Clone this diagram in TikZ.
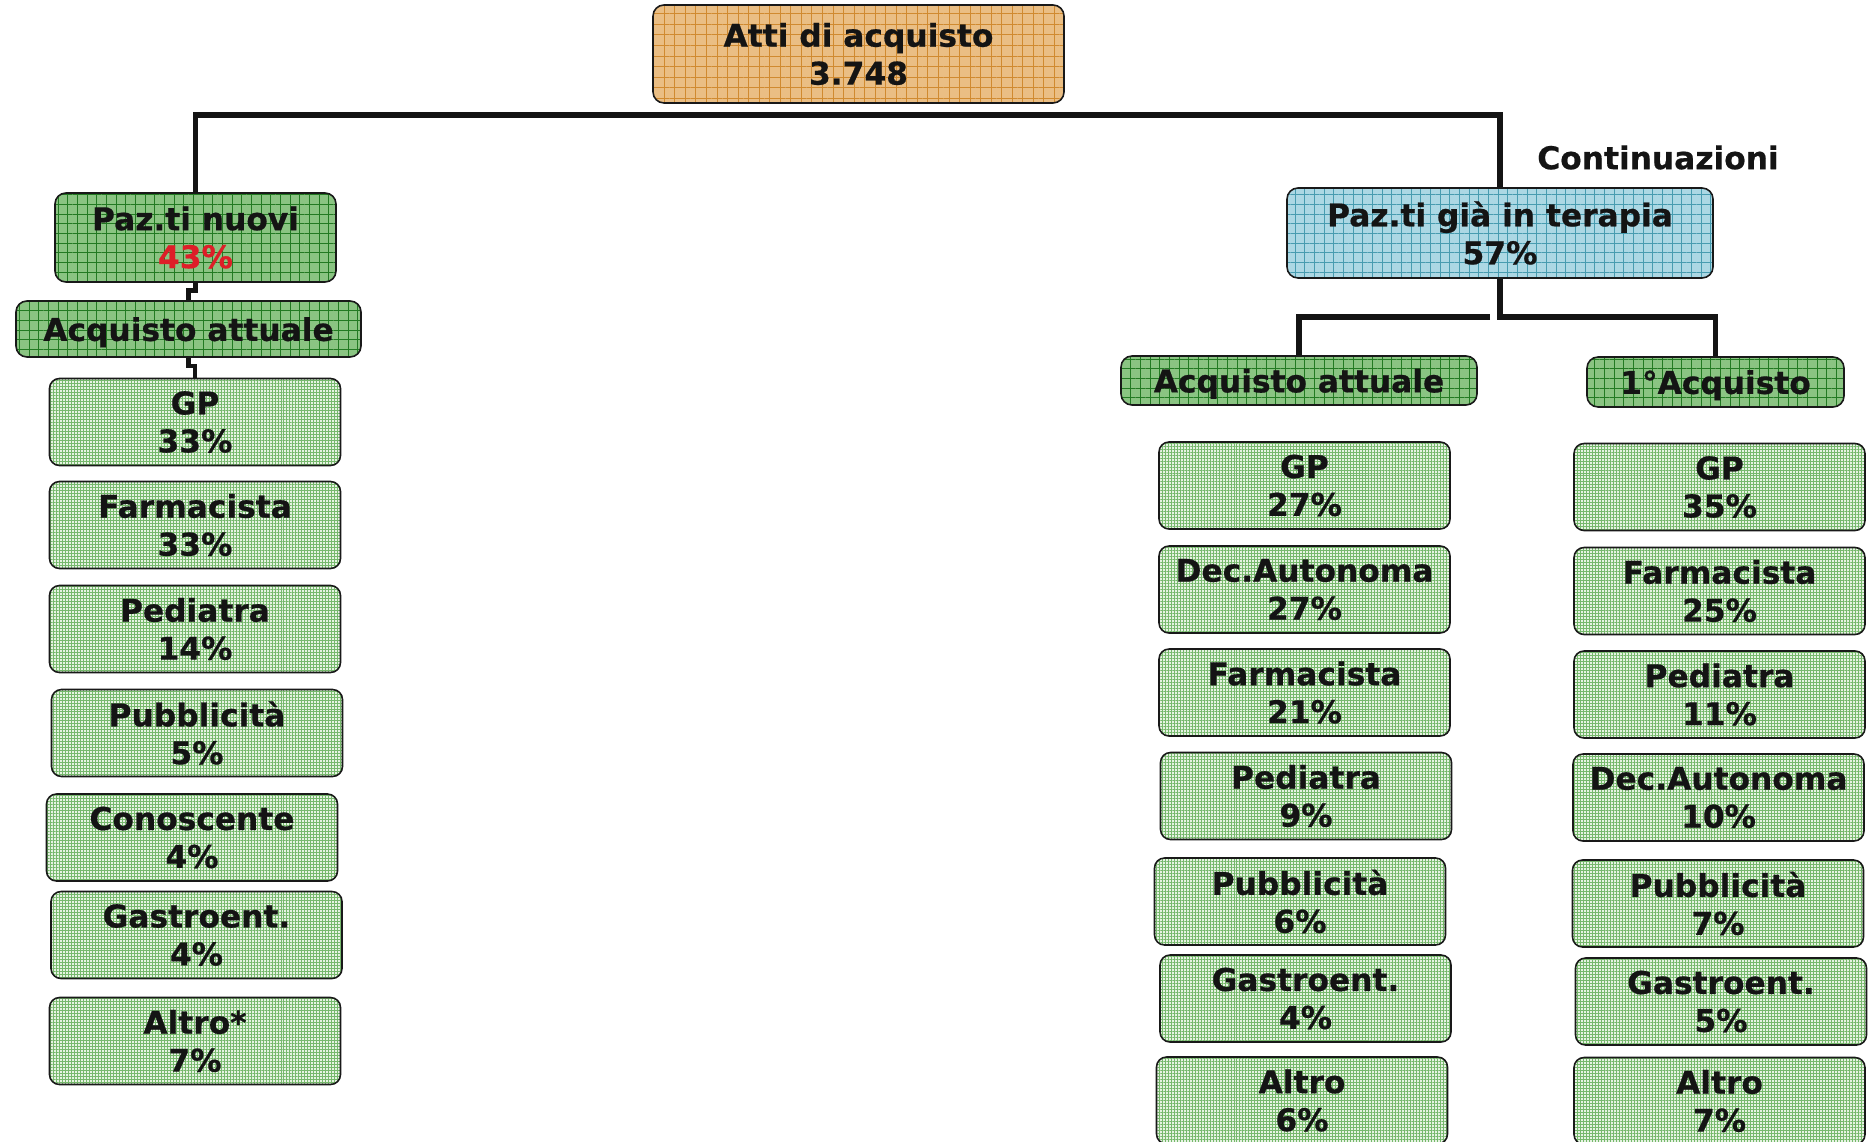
\documentclass[tikz,border=0pt]{standalone}
\usepackage{fontspec}
\setmainfont{DejaVu Sans}[BoldFeatures={FakeBold=0.6}]
\usetikzlibrary{positioning,patterns.meta}
\definecolor{boxorange}{RGB}{234,190,132}
\definecolor{gridorange}{RGB}{208,138,48}
\definecolor{boxgreen}{RGB}{138,196,130}
\definecolor{gridgreen}{RGB}{34,122,34}
\definecolor{boxleaf}{RGB}{230,243,226}
\definecolor{gridleaf}{RGB}{118,184,108}
\definecolor{boxblue}{RGB}{172,216,228}
\definecolor{gridblue}{RGB}{72,156,176}
\definecolor{txtred}{RGB}{222,30,40}

\begin{document}
\begin{tikzpicture}[
  box/.style={draw=black!90, line width=0.9pt, rectangle, rounded corners=0.22cm, inner sep=0pt, align=center, text=black!92, font=\fontsize{17.8}{21.6}\selectfont\bfseries},
  orangebox/.style={box, preaction={fill=boxorange}, pattern={Hatch[angle=0,distance=6pt,line width=0.5pt]}, pattern color=gridorange},
  greenbox/.style={box, preaction={fill=boxgreen}, pattern={Hatch[angle=0,distance=5.5pt,line width=0.5pt]}, pattern color=gridgreen},
  bluebox/.style={box, preaction={fill=boxblue}, pattern={Hatch[angle=0,distance=5.5pt,line width=0.5pt]}, pattern color=gridblue},
  headbox/.style={greenbox, text depth=0pt},
  leaf/.style={box, minimum width=5.82cm, minimum height=1.74cm, rounded corners=0.2cm, preaction={fill=boxleaf}, pattern={Hatch[angle=0,distance=1.7pt,line width=0.35pt]}, pattern color=gridleaf},
  link/.style={line width=3.1pt, draw=black!92},
  jog/.style={line width=2.5pt, draw=black!92}
]
\useasboundingbox (0,0) rectangle (37.36,-22.84);

% root and first split
\node[orangebox, minimum width=8.22cm, minimum height=1.96cm] (atti) at (17.17,-1.08) {Atti di acquisto\\3.748};
\node[greenbox, minimum width=5.62cm, minimum height=1.78cm] (nuovi) at (3.91,-4.75) {Paz.ti nuovi\\\textcolor{txtred}{43\%}};
\node[bluebox, minimum width=8.52cm, minimum height=1.8cm] (terapia) at (30.0,-4.66) {Paz.ti già in terapia\\57\%};
\node[font=\fontsize{17.8}{21.6}\selectfont\bfseries, text=black!92] (cont) at (33.16,-3.15) {Continuazioni};

% new patients
\node[headbox, minimum width=6.9cm, minimum height=1.12cm] (attL) at (3.77,-6.58) {Acquisto attuale};
\node[leaf] (gpL) at (3.9,-8.44) {GP\\33\%};
\node[leaf] (farmL) at (3.9,-10.5) {Farmacista\\33\%};
\node[leaf] (pedL) at (3.9,-12.58) {Pediatra\\14\%};
\node[leaf] (pubL) at (3.94,-14.66) {Pubblicità\\5\%};
\node[leaf] (conL) at (3.84,-16.75) {Conoscente\\4\%};
\node[leaf] (gasL) at (3.93,-18.7) {Gastroent.\\4\%};
\node[leaf] (altL) at (3.9,-20.82) {Altro*\\7\%};

% patients already in therapy
\node[headbox, minimum width=7.12cm, minimum height=0.98cm] (attR) at (25.98,-7.61) {Acquisto attuale};
\node[headbox, minimum width=5.14cm, minimum height=1.0cm] (primo) at (34.31,-7.64) {1°Acquisto};

\node[leaf] (gpA) at (26.09,-9.71) {GP\\27\%};
\node[leaf] (decA) at (26.09,-11.79) {Dec.Autonoma\\27\%};
\node[leaf] (farmA) at (26.09,-13.85) {Farmacista\\21\%};
\node[leaf] (pedA) at (26.12,-15.92) {Pediatra\\9\%};
\node[leaf] (pubA) at (26.0,-18.03) {Pubblicità\\6\%};
\node[leaf] (gasA) at (26.11,-19.97) {Gastroent.\\4\%};
\node[leaf] (altA) at (26.04,-22.01) {Altro\\6\%};

\node[leaf] (gpP) at (34.39,-9.74) {GP\\35\%};
\node[leaf] (farmP) at (34.39,-11.82) {Farmacista\\25\%};
\node[leaf] (pedP) at (34.39,-13.89) {Pediatra\\11\%};
\node[leaf] (decP) at (34.37,-15.95) {Dec.Autonoma\\10\%};
\node[leaf] (pubP) at (34.36,-18.07) {Pubblicità\\7\%};
\node[leaf] (gasP) at (34.42,-20.03) {Gastroent.\\5\%};
\node[leaf] (altP) at (34.39,-22.02) {Altro\\7\%};

% connectors
\coordinate (split) at (17.17,-2.3);
\coordinate (fork) at (30.0,-6.34);
\draw[link] (nuovi.north) |- (split) -| (terapia.north);
\draw[jog] (nuovi.south) -- ++(0,-0.16) -| (attL.north);
\draw[jog] (attL.south) -- ++(0,-0.16) -| (gpL.north);
\draw[link] (terapia.south) -- (fork) -| (primo.north);
\draw[link] ([xshift=-0.2cm]fork) -| (attR.north);
\end{tikzpicture}
\end{document}
